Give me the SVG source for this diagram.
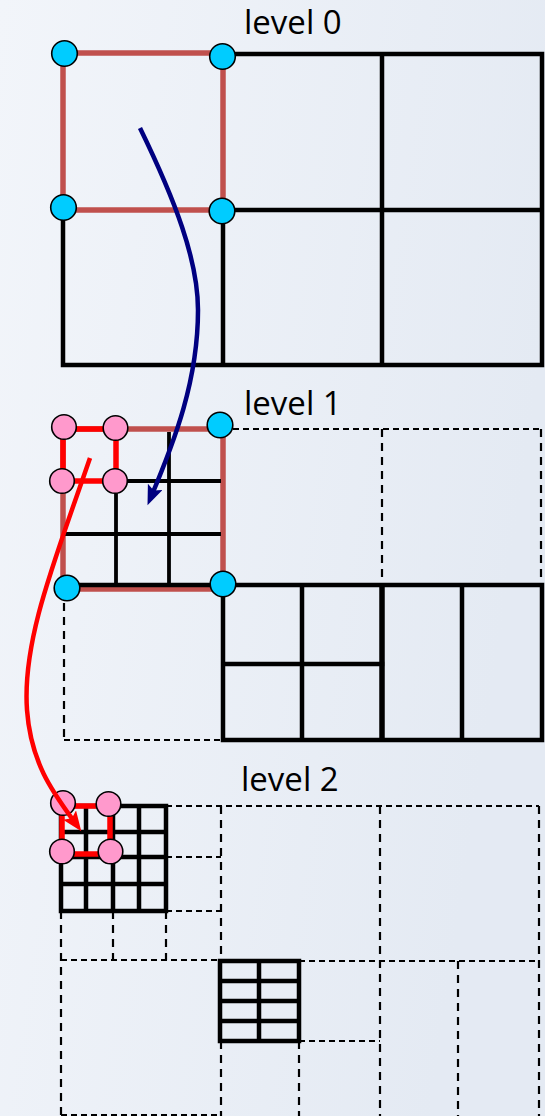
<svg xmlns="http://www.w3.org/2000/svg" width="545" height="1116" viewBox="0 0 545 1116">
<defs>
<linearGradient id="bg" x1="0" y1="0" x2="1" y2="0.3">
<stop offset="0" stop-color="#F2F5FA"/>
<stop offset="1" stop-color="#E4EAF3"/>
</linearGradient>
<marker id="ahBlue" markerUnits="userSpaceOnUse" markerWidth="22" markerHeight="18" refX="11" refY="8" orient="auto">
<path d="M0,0 L20,8 L0,16 L4,8 z" fill="#000080"/>
</marker>
<marker id="ahRed" markerUnits="userSpaceOnUse" markerWidth="22" markerHeight="18" refX="11" refY="8" orient="auto">
<path d="M0,0 L20,8 L0,16 L4,8 z" fill="#FF0000"/>
</marker>
<style>
.s{stroke:#000;stroke-width:4.5;fill:none;stroke-linecap:square}
.sf{stroke:#000;stroke-width:3.8;fill:none}
.dh{stroke:#000;stroke-width:2.2;fill:none;stroke-dasharray:6 4}
.dv{stroke:#000;stroke-width:2.2;fill:none;stroke-dasharray:8 6}
.br{stroke:#C0504D;stroke-width:5.5;fill:none}
.rd{stroke:#FF0000;stroke-width:5.5;fill:none}
.cy{fill:#00CCFF;stroke:#000;stroke-width:1.6}
.pk{fill:#FF99CC;stroke:#000;stroke-width:1.6}
.lbl{font-family:"Open Sans","DejaVu Sans",sans-serif;font-size:33px;fill:#000}
</style>
</defs>
<rect width="545" height="1116" fill="url(#bg)"/>

<g id="level0">
<text class="lbl" x="244" y="34">level 0</text>
<rect class="br" x="63" y="53" width="160" height="157"/>
<path class="s" d="M223,54 H542 V365 H63 V210 M223,210 V365 M382,54 V365 M223,210 H542"/>
<circle class="cy" cx="64.5" cy="53.5" r="12.8"/>
<circle class="cy" cx="222.5" cy="56.5" r="12.8"/>
<circle class="cy" cx="63.5" cy="207.5" r="12.8"/>
<circle class="cy" cx="222" cy="211" r="12.8"/>
</g>

<g id="level1">
<text class="lbl" x="244" y="415">level 1</text>
<rect class="br" x="63" y="429" width="160" height="160"/>
<path class="sf" d="M63,481 H221 M63,534 H221 M116,481 V585 M169,432 V585"/>
<path class="s" d="M63,585 H542 V740 H223 V585 M302,585 V740 M462,585 V740 M223,664 H382"/>
<path d="M382,585 V740" stroke="#000" stroke-width="5.5"/>
<path class="dh" d="M223,429 H541"/>
<path class="dv" d="M382,429 V585 M541,429 V585"/>
<path class="dv" d="M64,589 V740"/>
<path class="dh" d="M64,740 H223"/>
<rect class="rd" x="63" y="429" width="53" height="52"/>
<circle class="cy" cx="220" cy="425" r="12.8"/>
<circle class="cy" cx="67" cy="588" r="12.8"/>
<circle class="cy" cx="223" cy="584" r="12.8"/>
<circle class="pk" cx="64" cy="427" r="12.3"/>
<circle class="pk" cx="115.5" cy="428" r="12.3"/>
<circle class="pk" cx="62" cy="481" r="12.3"/>
<circle class="pk" cx="115" cy="481" r="12.3"/>
</g>

<g id="level2">
<text class="lbl" x="241" y="791">level 2</text>
<path class="dh" d="M166,806 H539 M166,857 H221 M166,911 H221 M61,960 H221 M299,961 H539 M299,1041 H380 M61,1115 H221"/>
<path class="dv" d="M221,806 V961 M221,1041 V1116 M299,1041 V1116 M380,806 V1116 M458,961 V1116 M539,806 V1116 M61,911 V1116 M113,911 V960 M166,911 V960"/>
<path class="s" d="M61,806 H166 V911 H61 Z M86,806 V911 M113,806 V911 M139,806 V911 M61,832 H166 M61,857 H166 M61,884 H166"/>
<path class="s" d="M220,961 H299 V1041 H220 Z M259,961 V1041 M220,981 H299 M220,1001 H299 M220,1021 H299"/>
<rect class="rd" x="62" y="806" width="48" height="48"/>
<circle class="pk" cx="63" cy="803" r="12.3"/>
<circle class="pk" cx="108.5" cy="804" r="12.3"/>
<circle class="pk" cx="62" cy="851.5" r="12.3"/>
<circle class="pk" cx="110.5" cy="851.5" r="12.3"/>
</g>

<g id="connectors">
<path d="M140,128 C175,200 198,260 198,310 C198,380 175,440 151,497" stroke="#000080" stroke-width="4.5" fill="none" marker-end="url(#ahBlue)"/>
<path d="M90,458 C55,560 22,640 27,710 C31,765 55,795 76,824" stroke="#FF0000" stroke-width="4.5" fill="none" marker-end="url(#ahRed)"/>
</g>
</svg>
